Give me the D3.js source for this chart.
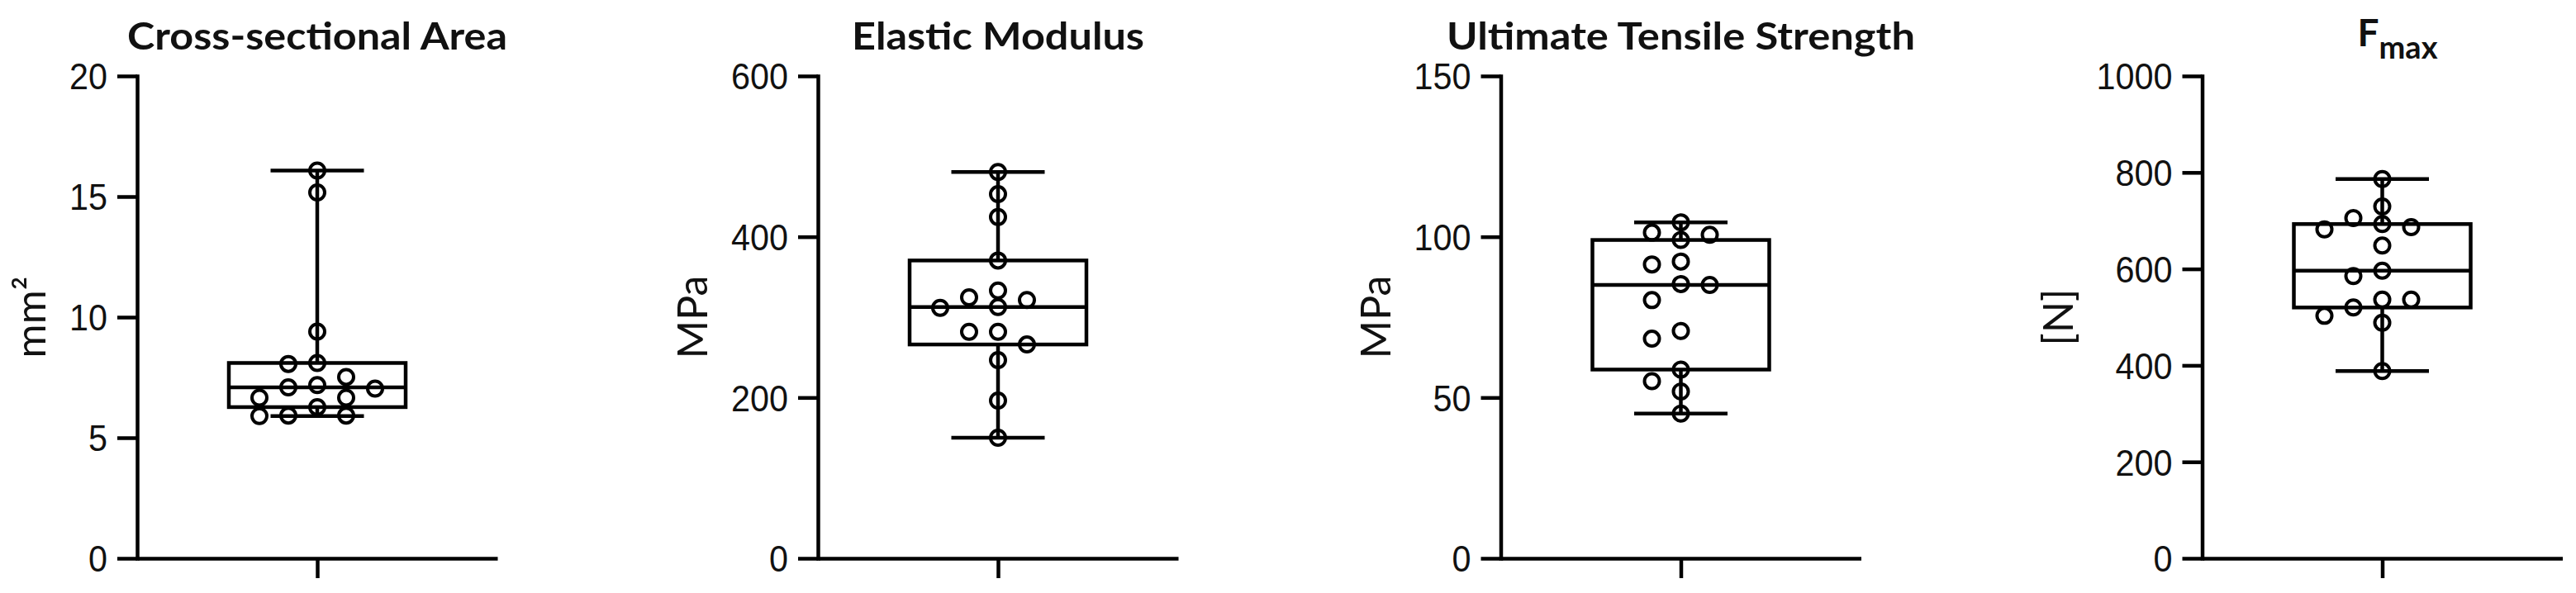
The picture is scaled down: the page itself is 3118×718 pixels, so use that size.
<!DOCTYPE html>
<html>
<head>
<meta charset="utf-8">
<script src="https://cdn.jsdelivr.net/npm/d3@7"></script>
<style>
  body { margin: 0; background: #fff; }
  svg { display: block; font-family: Lato, "Open Sans", sans-serif; }
</style>
</head>
<body>
<div id="chart"></div>
<script>
// values (n = 15 per measure)
var areaValues    = [16.08, 15.17, 9.40, 8.10, 8.06, 7.52, 7.18, 7.09, 7.04, 6.66, 6.66, 6.27, 5.92, 5.92, 5.90];
var modulusValues = [480.5, 453, 424.6, 370.5, 333.2, 324.7, 321.3, 312.6, 311.6, 281.8, 281.8, 266, 246.6, 196.2, 150];
var utsValues     = [104.5, 101.3, 100.6, 99.0, 92.3, 91.4, 85.3, 85.0, 80.3, 70.7, 68.3, 58.7, 55.1, 51.9, 45.0];
var fmaxValues    = [786.5, 729.5, 705.5, 693, 686.6, 682, 648.4, 596.4, 585.1, 536.5, 536.5, 520, 502.8, 488.5, 388.2];

var titles     = ["Cross-sectional Area", "Elastic Modulus", "Ultimate Tensile Strength", "F"];
var unitLabels = ["mm\u00B2", "MPa", "MPa", "[N]"];
var yMax       = [20, 600, 150, 1000];
var yTicks     = [[0, 5, 10, 15, 20], [0, 200, 400, 600], [0, 50, 100, 150], [0, 200, 400, 600, 800, 1000]];
var series     = [areaValues, modulusValues, utsValues, fmaxValues];

// ---------------------------------------------------------------------//
//                               layout                                 //
// ---------------------------------------------------------------------//
var width = 3118, height = 718;
var axisX = [166, 990, 1816.5, 2665.5];
var plotTop = 92, plotBottom = 676, plotW = 436;
var titleW = [460, 354, 567];
var lw = 4.5;

var svg = d3.select("#chart").append("svg")
  .attr("width", width)
  .attr("height", height);

// Prism style quartiles: position (n+1)p
function quart(sorted, p) {
  var pos = (sorted.length + 1) * p - 1;
  var lo = Math.floor(pos), hi = Math.ceil(pos);
  return sorted[lo] + (sorted[hi] - sorted[lo]) * (pos - lo);
}

// greedy swarm, slots of half the row spacing, tries the emptier side first
function swarm(vals, y) {
  var unit = 17.5, D = 20;
  var order = vals.map(function(v, i) { return i; })
    .sort(function(a, b) { return vals[b] - vals[a]; });
  var placed = [], off = [];
  order.forEach(function(i) {
    var py = y(vals[i]);
    var left = 0, right = 0;
    placed.forEach(function(p) {
      if (Math.abs(p.y - py) < 2 * D) { if (p.dx < 0) left++; else if (p.dx > 0) right++; }
    });
    for (var k = 0; k < 20; k++) {
      var cands = k === 0 ? [0] : (left <= right ? [-k, k] : [k, -k]);
      for (var c = 0; c < cands.length; c++) {
        var dx = cands[c] * unit;
        var ok = placed.every(function(p) {
          return Math.abs(p.dx - dx) >= 2 * unit - 0.01 || Math.abs(p.y - py) >= D;
        });
        if (ok) { off[i] = dx; placed.push({dx: dx, y: py}); return; }
      }
    }
  });
  return off;
}

series.forEach(function(vals, idx) {
  var g = svg.append("g").attr("transform", "translate(" + axisX[idx] + ",0)");

  var y = d3.scaleLinear().domain([0, yMax[idx]]).range([plotBottom, plotTop]);
  var x = d3.scalePoint().domain(["a"]).range([0, plotW]).padding(0.5);
  var cx = x("a");

  // y axis
  var yAxis = g.append("g")
    .call(d3.axisLeft(y).tickValues(yTicks[idx]).tickFormat(d3.format("d"))
      .tickSize(24).tickSizeOuter(0).tickPadding(12));
  yAxis.select(".domain").attr("stroke-width", lw).attr("stroke-linecap", "square");
  yAxis.selectAll(".tick line").attr("stroke-width", lw);
  yAxis.selectAll(".tick text")
    .attr("font-size", 44)
    .attr("fill", "#111")
    .attr("dy", "0.36em")
    .attr("textLength", function(d) { return String(d).length * 23; })
    .attr("lengthAdjust", "spacingAndGlyphs");

  // x axis
  var xAxis = g.append("g")
    .attr("transform", "translate(0," + plotBottom + ")")
    .call(d3.axisBottom(x).tickSize(24).tickSizeOuter(0).tickFormat(""));
  xAxis.select(".domain").attr("stroke-width", lw);
  xAxis.selectAll(".tick line").attr("stroke-width", lw);

  // axis label
  var labBox = yAxis.node().getBBox();
  g.append("text")
    .attr("transform", "translate(" + (labBox.x - 29) + "," + ((plotTop + plotBottom) / 2) + ") rotate(-90)")
    .attr("text-anchor", "middle")
    .attr("font-size", 50)
    .attr("fill", "#111")
    .text(unitLabels[idx]);

  // title
  if (idx < 3) {
    g.append("text")
      .attr("x", cx).attr("y", 60)
      .attr("text-anchor", "middle")
      .attr("font-size", 46)
      .attr("font-weight", "bold")
      .attr("fill", "#111")
      .attr("textLength", titleW[idx])
      .attr("lengthAdjust", "spacingAndGlyphs")
      .text(titles[idx]);
  } else {
    var t = g.append("text")
      .attr("x", cx - 30).attr("y", 56)
      .attr("font-weight", "bold")
      .attr("fill", "#111");
    t.append("tspan").attr("font-size", 46).text(titles[idx]);
    t.append("tspan").attr("font-size", 38).attr("dy", 15).text("max");
  }

  // box and whiskers
  var s = vals.slice().sort(d3.ascending);
  var q1 = quart(s, 0.25), med = quart(s, 0.5), q3 = quart(s, 0.75);
  var lo = s[0], hi = s[s.length - 1];
  var boxW = 214, capW = 113;

  var bx = g.append("g").attr("fill", "none").attr("stroke", "#000").attr("stroke-width", lw);
  bx.append("line").attr("x1", cx).attr("x2", cx).attr("y1", y(hi)).attr("y2", y(q3));
  bx.append("line").attr("x1", cx).attr("x2", cx).attr("y1", y(q1)).attr("y2", y(lo));
  bx.append("line").attr("x1", cx - capW / 2).attr("x2", cx + capW / 2).attr("y1", y(hi)).attr("y2", y(hi));
  bx.append("line").attr("x1", cx - capW / 2).attr("x2", cx + capW / 2).attr("y1", y(lo)).attr("y2", y(lo));
  bx.append("rect")
    .attr("x", cx - boxW / 2).attr("width", boxW)
    .attr("y", y(q3)).attr("height", y(q1) - y(q3));
  bx.append("line").attr("x1", cx - boxW / 2).attr("x2", cx + boxW / 2).attr("y1", y(med)).attr("y2", y(med));

  // points
  var off = swarm(vals, y);
  g.append("g").selectAll("circle")
    .data(vals)
    .enter().append("circle")
    .attr("cx", function(d, i) { return cx + off[i]; })
    .attr("cy", function(d) { return y(d); })
    .attr("r", 9)
    .attr("fill", "none")
    .attr("stroke", "#000")
    .attr("stroke-width", 4);
});
</script>
</body>
</html>
